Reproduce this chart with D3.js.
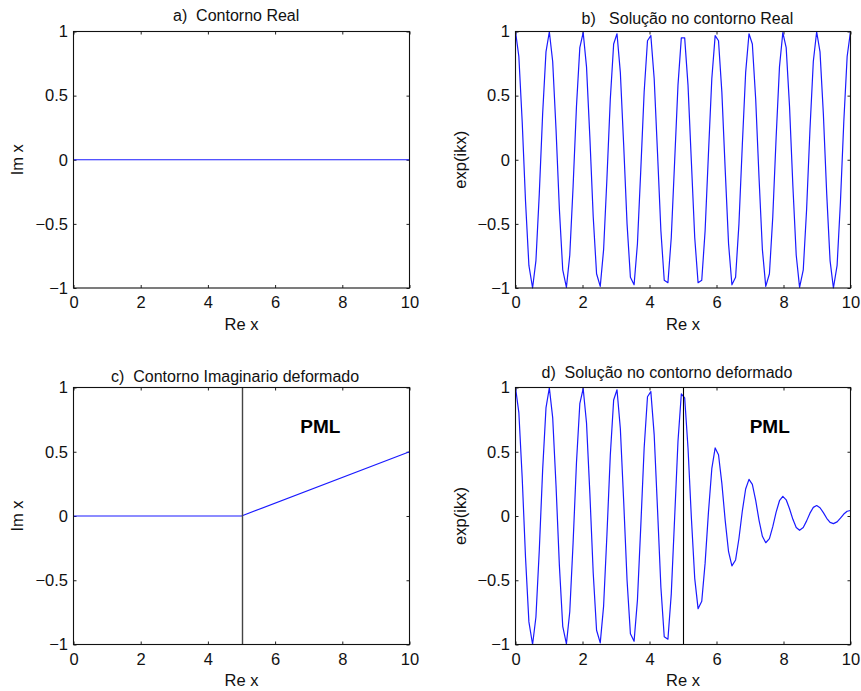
<!DOCTYPE html>
<html>
<head>
<meta charset="utf-8">
<script src="https://cdn.jsdelivr.net/npm/d3@7"></script>
<style>
  body { margin: 0; background: #fff; }
  svg text { font-family: "Liberation Sans", Arial, Helvetica, sans-serif; }
</style>
</head>
<body>
<svg id="chart" width="861" height="691"></svg>
<script>
// ---- axis ticks ----
const xTicks = [0, 2, 4, 6, 8, 10];
const xTickLabels = ["0", "2", "4", "6", "8", "10"];
const yTicks = [-1, -0.5, 0, 0.5, 1];
const yTickLabels = ["\u22121", "\u22120.5", "0", "0.5", "1"];

// ---- texts ----
const panelTitles = [
  "a)  Contorno Real",
  "b)   Solução no contorno Real",
  "c)  Contorno Imaginario deformado",
  "d)  Solução no contorno deformado"
];
const xLabel = "Re x";
const yLabels = ["Im x", "exp(ikx)", "Im x", "exp(ikx)"];
const pmlLabel = "PML";
const pmlStart = 5;

// ---- contours (Re x, Im x) ----
const realContourX = [0, 10];
const realContourY = [0, 0];
const deformedContourX = [0, 5, 10];
const deformedContourY = [0, 0, 0.5];

// ---- sampled solution: Re x grid ----
const sampleX = [
  0.00, 0.10, 0.20, 0.30, 0.40, 0.51, 0.61, 0.71, 0.81, 0.91,
  1.01, 1.11, 1.21, 1.31, 1.41, 1.52, 1.62, 1.72, 1.82, 1.92,
  2.02, 2.12, 2.22, 2.32, 2.42, 2.53, 2.63, 2.73, 2.83, 2.93,
  3.03, 3.13, 3.23, 3.33, 3.43, 3.54, 3.64, 3.74, 3.84, 3.94,
  4.04, 4.14, 4.24, 4.34, 4.44, 4.55, 4.65, 4.75, 4.85, 4.95,
  5.05, 5.15, 5.25, 5.35, 5.45, 5.56, 5.66, 5.76, 5.86, 5.96,
  6.06, 6.16, 6.26, 6.36, 6.46, 6.57, 6.67, 6.77, 6.87, 6.97,
  7.07, 7.17, 7.27, 7.37, 7.47, 7.58, 7.68, 7.78, 7.88, 7.98,
  8.08, 8.18, 8.28, 8.38, 8.48, 8.59, 8.69, 8.79, 8.89, 8.99,
  9.09, 9.19, 9.29, 9.39, 9.49, 9.60, 9.70, 9.80, 9.90, 10.00
];

// solution on the real contour
const solutionReal = [
  1.000, 0.805, 0.297, -0.327, -0.824, -1.000, -0.786, -0.266, 0.357, 0.841,
  0.998, 0.766, 0.236, -0.386, -0.858, -0.995, -0.745, -0.205, 0.415, 0.874,
  0.992, 0.724, 0.174, -0.444, -0.889, -0.987, -0.701, -0.142, 0.472, 0.903,
  0.982, 0.679, 0.111, -0.500, -0.916, -0.975, -0.655, -0.079, 0.527, 0.928,
  0.968, 0.631, 0.048, -0.554, -0.940, -0.959, -0.606, -0.016, 0.580, 0.950,
  0.950, 0.580, -0.016, -0.606, -0.959, -0.940, -0.554, 0.048, 0.631, 0.968,
  0.928, 0.527, -0.079, -0.655, -0.975, -0.916, -0.500, 0.111, 0.679, 0.982,
  0.903, 0.472, -0.142, -0.701, -0.987, -0.889, -0.444, 0.174, 0.724, 0.992,
  0.874, 0.415, -0.205, -0.745, -0.995, -0.858, -0.386, 0.236, 0.766, 0.998,
  0.841, 0.357, -0.266, -0.786, -1.000, -0.824, -0.327, 0.297, 0.805, 1.000
];

// solution on the deformed contour (damped inside the PML)
const solutionDeformed = [
  1.000, 0.805, 0.297, -0.327, -0.824, -1.000, -0.786, -0.266, 0.357, 0.841,
  0.998, 0.766, 0.236, -0.386, -0.858, -0.995, -0.745, -0.205, 0.415, 0.874,
  0.992, 0.724, 0.174, -0.444, -0.889, -0.987, -0.701, -0.142, 0.472, 0.903,
  0.982, 0.679, 0.111, -0.500, -0.916, -0.975, -0.655, -0.079, 0.527, 0.928,
  0.968, 0.631, 0.048, -0.554, -0.940, -0.959, -0.606, -0.016, 0.580, 0.950,
  0.920, 0.527, -0.014, -0.485, -0.721, -0.663, -0.367, 0.030, 0.368, 0.530,
  0.477, 0.254, -0.036, -0.278, -0.388, -0.342, -0.175, 0.037, 0.210, 0.285,
  0.246, 0.121, -0.034, -0.158, -0.208, -0.176, -0.083, 0.030, 0.119, 0.153,
  0.126, 0.056, -0.026, -0.089, -0.111, -0.090, -0.038, 0.022, 0.067, 0.081,
  0.064, 0.026, -0.018, -0.050, -0.059, -0.046, -0.017, 0.015, 0.037, 0.043
];

// ---- layout ----
const panels = [
  { left: 73.5, top: 31.5, w: 336, h: 256.5, titleX: 173, titleY: 20.5, yLabelX: 23, xLabelY: 330,
    xs: realContourX, ys: realContourY, pml: false },
  { left: 515.5, top: 31.5, w: 335, h: 256.5, titleX: 581.5, titleY: 24, yLabelX: 466, xLabelY: 330,
    xs: sampleX, ys: solutionReal, pml: false },
  { left: 73.5, top: 387.5, w: 336, h: 257, titleX: 111, titleY: 381.5, yLabelX: 23, xLabelY: 686,
    xs: deformedContourX, ys: deformedContourY, pml: true, pmlX: 6.75, boundaryColor: "#444", boundaryWidth: 1.4 },
  { left: 515.5, top: 387.5, w: 335, h: 257, titleX: 541.5, titleY: 377.5, yLabelX: 466, xLabelY: 686,
    xs: sampleX, ys: solutionDeformed, pml: true, pmlX: 6.99, boundaryColor: "#000", boundaryWidth: 1.1 }
];

const svg = d3.select("#chart");
const FONT = "16px";

function styleAxis(g) {
  g.select(".domain").remove();
  g.attr("font-family", null).attr("font-size", null);
  g.selectAll(".tick line").attr("stroke", "#222");
  g.selectAll(".tick text").attr("fill", "#111").style("font-size", "16.5px");
}

panels.forEach((p, i) => {
  const x = d3.scaleLinear().domain([0, 10]).range([p.left, p.left + p.w]);
  const y = d3.scaleLinear().domain([-1, 1]).range([p.top + p.h, p.top]);
  const g = svg.append("g");

  // inward ticks on all four sides, labels on bottom and left
  g.append("g").attr("transform", `translate(0,${p.top + p.h})`)
    .call(d3.axisBottom(x).tickValues(xTicks).tickFormat((d, j) => xTickLabels[j])
      .tickSizeInner(-3).tickSizeOuter(0).tickPadding(8.6))
    .call(styleAxis);
  g.append("g").attr("transform", `translate(0,${p.top})`)
    .call(d3.axisTop(x).tickValues(xTicks).tickFormat(() => "")
      .tickSizeInner(-3).tickSizeOuter(0))
    .call(styleAxis);
  g.append("g").attr("transform", `translate(${p.left},0)`)
    .call(d3.axisLeft(y).tickValues(yTicks).tickFormat((d, j) => yTickLabels[j])
      .tickSizeInner(-3).tickSizeOuter(0).tickPadding(5.5))
    .call(styleAxis);
  g.append("g").attr("transform", `translate(${p.left + p.w},0)`)
    .call(d3.axisRight(y).tickValues(yTicks).tickFormat(() => "")
      .tickSizeInner(-3).tickSizeOuter(0))
    .call(styleAxis);

  // data line
  const pts = p.xs.map((v, j) => [v, p.ys[j]]);
  const line = d3.line().x(d => x(d[0])).y(d => y(d[1]));
  g.append("path").datum(pts)
    .attr("d", line)
    .attr("fill", "none")
    .attr("stroke", "#1a1aff")
    .attr("stroke-width", 1.2)
    .attr("stroke-linejoin", "round");

  // PML boundary and label
  if (p.pml) {
    g.append("line")
      .attr("x1", Math.round(x(pmlStart)) + 0.5).attr("x2", Math.round(x(pmlStart)) + 0.5)
      .attr("y1", y(1)).attr("y2", y(-1))
      .attr("stroke", p.boundaryColor).attr("stroke-width", p.boundaryWidth);
    g.append("text")
      .attr("x", x(p.pmlX)).attr("y", y(0.647))
      .attr("font-weight", "bold").style("font-size", "19px")
      .attr("fill", "#000")
      .text(pmlLabel);
  }

  // frame
  g.append("rect")
    .attr("x", p.left).attr("y", p.top).attr("width", p.w).attr("height", p.h)
    .attr("fill", "none").attr("stroke", "#111").attr("stroke-width", 1.1);

  // titles and axis labels
  g.append("text")
    .attr("x", p.titleX).attr("y", p.titleY)
    .style("font-size", FONT).style("white-space", "pre").attr("fill", "#111")
    .text(panelTitles[i]);
  g.append("text")
    .attr("x", p.left + p.w / 2).attr("y", p.xLabelY)
    .attr("text-anchor", "middle").style("font-size", "16.5px").attr("fill", "#111")
    .text(xLabel);
  g.append("text")
    .attr("transform", `translate(${p.yLabelX},${p.top + p.h / 2}) rotate(-90)`)
    .attr("text-anchor", "middle").style("font-size", "16.5px").attr("fill", "#111")
    .text(yLabels[i]);
});
</script>
</body>
</html>
